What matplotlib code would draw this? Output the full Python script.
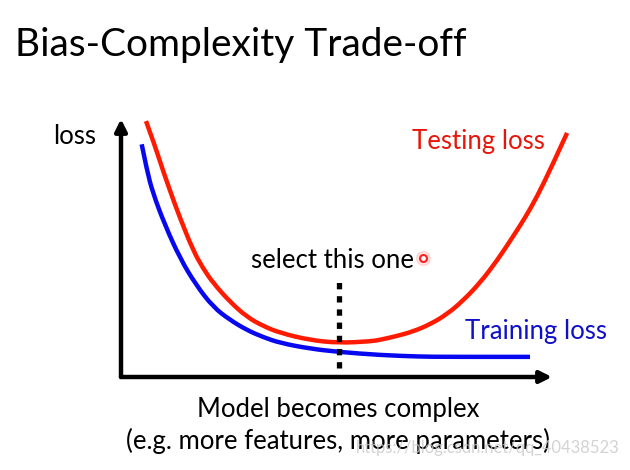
import matplotlib
matplotlib.use("Agg")
import matplotlib.pyplot as plt
from matplotlib.path import Path
from matplotlib.patches import PathPatch

# curves (x = model complexity, y = loss, both 0..10)
test_x = [0.58, 0.79, 0.97, 1.18, 1.37, 1.67, 1.90, 2.14, 2.53, 2.92, 3.29, 3.69, 4.38, 5.06, 5.78,
          6.01, 6.38, 6.77, 7.17, 7.56, 7.93, 8.33, 8.72, 9.09, 9.37, 9.65, 10.00, 10.35]
test_y = [9.92, 8.95, 8.02, 7.02, 6.16, 4.92, 4.22, 3.64, 2.91, 2.33, 1.98, 1.71, 1.43, 1.32, 1.38,
          1.44, 1.58, 1.76, 2.04, 2.43, 2.95, 3.65, 4.50, 5.43, 6.16, 6.98, 8.18, 9.46]
train_x = [0.48, 0.60, 0.74, 1.02, 1.37, 1.74, 2.14, 2.53, 2.92, 3.29, 3.69, 4.38, 5.06, 6.01, 6.94, 7.56, 9.49]
train_y = [9.02, 8.02, 7.13, 5.89, 4.60, 3.57, 2.71, 2.21, 1.82, 1.55, 1.32, 1.10, 0.97, 0.85, 0.79, 0.78, 0.78]
select_x = 5.06
select_top = 3.8

title = "Bias-Complexity Trade-off"
xlab1 = "Model becomes complex"
xlab2 = "(e.g. more features, more parameters)"

plt.rcParams['font.family'] = ['Lato', 'DejaVu Sans']


def smooth_curve(xs, ys, color):
    # quadratic bezier through midpoints, read points act as control points
    pts = list(zip(xs, ys))
    verts = [pts[0]]
    codes = [Path.MOVETO]
    for i in range(1, len(pts) - 1):
        mid = ((pts[i][0] + pts[i + 1][0]) / 2, (pts[i][1] + pts[i + 1][1]) / 2)
        if i == len(pts) - 2:
            mid = pts[-1]
        verts += [pts[i], mid]
        codes += [Path.CURVE3, Path.CURVE3]
    return PathPatch(Path(verts, codes), fill=False, edgecolor=color, lw=3.2,
                     capstyle='butt', clip_on=False)


fig = plt.figure(figsize=(6.3, 4.7), dpi=100)
fig.patch.set_facecolor('white')
ax = fig.add_axes([121/630, 1-377/470, 431/630, 258/470])
ax.set_xlim(0, 10)
ax.set_ylim(0, 10)
ax.axis('off')

# axes with arrows
ax.annotate('', xy=(0, 10), xytext=(0, 0), annotation_clip=False,
            arrowprops=dict(arrowstyle='-|>,head_length=0.7,head_width=0.35', lw=3.2, color='black',
                            shrinkA=0, shrinkB=0))
ax.annotate('', xy=(10, 0), xytext=(0, 0), annotation_clip=False,
            arrowprops=dict(arrowstyle='-|>,head_length=0.7,head_width=0.35', lw=3.2, color='black',
                            shrinkA=0, shrinkB=0))

ax.add_patch(smooth_curve(train_x, train_y, '#0808f0'))
ax.add_patch(smooth_curve(test_x, test_y, '#ff1a00'))
ax.plot([select_x, select_x], [0.35, select_top], color='black', lw=3.8,
        linestyle=(0, (1.2, 1.3)), clip_on=False)

# laser pointer dot
ax.plot([7.0], [4.6], 'o', ms=10, color='#ff4040', alpha=0.15, clip_on=False)
ax.plot([7.0], [4.6], 'o', ms=5, mfc='white', mec='#ff2020', mew=1.5, clip_on=False)

fig.text(15/630, 1-45/470, title, fontsize=28, va='center', ha='left')
fig.text(53/630, 1-136/470, "loss", fontsize=18.5, va='center', ha='left')
fig.text(412/630, 1-142/470, "Testing loss", fontsize=18.5, va='center', ha='left', color='#e8160a')
fig.text(251/630, 1-260/470, "select this one", fontsize=18.5, va='center', ha='left')
fig.text(465/630, 1-331/470, "Training loss", fontsize=18.5, va='center', ha='left', color='#1010c8')
fig.text(338/630, 1-410/470, xlab1, fontsize=18.5, va='center', ha='center')
fig.text(338/630, 1-441/470, xlab2, fontsize=18.5, va='center', ha='center')
fig.text(620/630, 1-448/470, "https://blog.csdn.net/qq_40438523", fontsize=12, va='center', ha='right',
         color='#c8c8c8', alpha=0.8)

fig.savefig('out.png', dpi=100)
